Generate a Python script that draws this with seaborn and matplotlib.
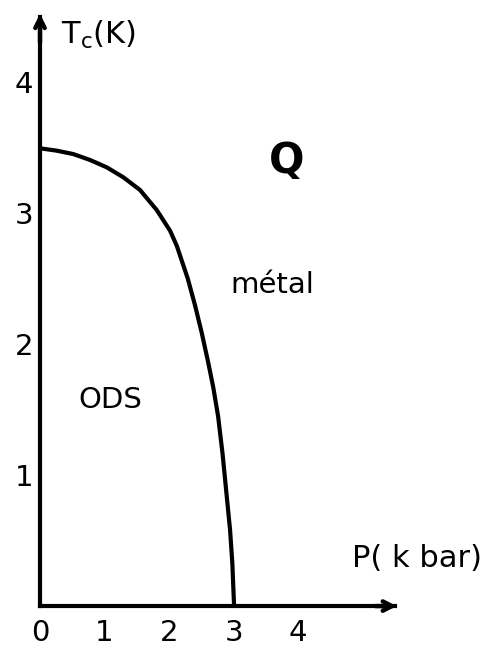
import matplotlib
matplotlib.use("Agg")
import matplotlib.pyplot as plt
import seaborn as sns
import pandas as pd

# Phase boundary Tc(P) between the ODS and metallic phases
pressure_kbar = [0.0, 0.259, 0.516, 0.775, 1.034, 1.291, 1.550, 1.809, 2.016, 2.12,
                 2.29, 2.403, 2.507, 2.609, 2.687, 2.76, 2.83, 2.895, 2.946, 2.981, 3.008]
tc_kelvin = [3.494, 3.476, 3.450, 3.405, 3.349, 3.273, 3.176, 3.023, 2.865, 2.75,
             2.50, 2.295, 2.085, 1.855, 1.665, 1.45, 1.16, 0.834, 0.580, 0.326, 0.0]

x_ticks = [0, 1, 2, 3, 4]
y_ticks = [1, 2, 3, 4]

df = pd.DataFrame({"P": pressure_kbar, "Tc": tc_kelvin})

sns.set_theme(style="white")
plt.rcParams["font.family"] = ["DejaVu Sans"]
plt.rcParams["text.color"] = "black"

fig = plt.figure(figsize=(4.91, 6.48), dpi=100)
ax = fig.add_axes([0, 0, 1, 1])
ax.set_facecolor("white")

sns.lineplot(data=df, x="P", y="Tc", ax=ax, color="black", linewidth=3.0,
             sort=False, estimator=None)
ax.lines[-1].set_solid_joinstyle("round")

ax.set_xlim(-0.62, 6.99)
ax.set_ylim(-0.32, 4.626)

# axes drawn as arrows through the origin
for side in ["top", "right"]:
    ax.spines[side].set_visible(False)
for side in ["left", "bottom"]:
    ax.spines[side].set_position(("data", 0))
    ax.spines[side].set_color("black")
    ax.spines[side].set_linewidth(3.0)
ax.spines["bottom"].set_bounds(0, 5.5)
ax.spines["left"].set_bounds(0, 4.5)

head = "->,head_length=0.55,head_width=0.28"
ax.annotate("", xy=(5.53, 0), xytext=(5.2, 0),
            arrowprops=dict(arrowstyle=head, color="black", lw=3.2,
                            shrinkA=0, shrinkB=0))
ax.annotate("", xy=(0, 4.52), xytext=(0, 4.3),
            arrowprops=dict(arrowstyle=head, color="black", lw=3.2,
                            shrinkA=0, shrinkB=0))

ax.set_xticks(x_ticks)
ax.set_yticks(y_ticks)
ax.set_xticklabels([str(v) for v in x_ticks])
ax.set_yticklabels([str(v) for v in y_ticks])
ax.tick_params(axis="x", direction="in", length=15, width=3, pad=9,
               labelsize=21, colors="black")
ax.tick_params(axis="y", direction="in", length=14, width=3, pad=5,
               labelsize=21, colors="black")
ax.set_xlabel("")
ax.set_ylabel("")
ax.grid(False)

ax.text(0.32, 4.36, r"T$_{\rm c}$(K)", fontsize=22, ha="left", va="center", color="black")
ax.text(5.85, 0.36, "P( k bar)", fontsize=22, ha="center", va="center", color="black")
ax.text(3.83, 3.40, "Q", fontsize=30, fontweight="bold", ha="center", va="center", color="black")
ax.text(3.6, 2.45, "métal", fontsize=21, ha="center", va="center", color="black")
ax.text(1.09, 1.57, "ODS", fontsize=21, ha="center", va="center", color="black")

fig.savefig("out.png", dpi=100, facecolor="white")
